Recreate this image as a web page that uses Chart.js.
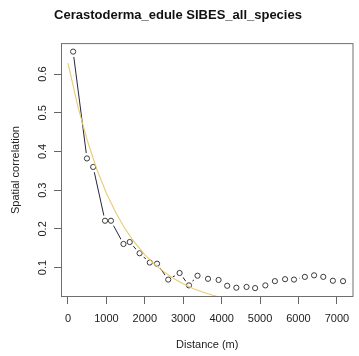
<!DOCTYPE html>
<meta charset="utf-8">
<style>
html, body {
  margin: 0;
  background: #fff;
}

#chart {
  display: block;
}
</style>
<body>

<canvas id="chart" width="359" height="356"></canvas>

<script src="https://cdn.jsdelivr.net/npm/chart.js@4/dist/chart.umd.min.js"></script>
<script>
"use strict";

var distance = [134, 493, 655, 964, 1118, 1444, 1607, 1864, 2129, 2318, 2609, 2905, 3149, 3372, 3645,
  3920, 4144, 4383, 4648, 4871, 5137, 5386, 5651, 5883, 6166, 6406, 6645, 6895, 7160];
var correlation = [0.658, 0.382, 0.360, 0.221, 0.221, 0.161, 0.166, 0.137, 0.113, 0.110, 0.069, 0.086,
  0.054, 0.079, 0.071, 0.068, 0.053, 0.048, 0.050, 0.047, 0.054, 0.065, 0.070, 0.069, 0.076, 0.080,
  0.076, 0.066, 0.065];

// fitted curve (yellow), sampled by eye
var fitDistance = [0, 250, 500, 750, 1000, 1250, 1500, 1750, 2000, 2250, 2500, 2750, 3000, 3250,
  3500, 3750, 4000, 4250];
var fitCorrelation = [0.628, 0.519, 0.429, 0.354, 0.292, 0.241, 0.198, 0.163, 0.133, 0.109, 0.089,
  0.072, 0.058, 0.046, 0.037, 0.029, 0.022, 0.017];

var xTicks = [0, 1000, 2000, 3000, 4000, 5000, 6000, 7000];
var yTicks = [0.1, 0.2, 0.3, 0.4, 0.5, 0.6];

var FONT = "'Liberation Sans', Arial, Helvetica, sans-serif";

function toPoints(xs, ys) {
  return xs.map(function (x, i) { return { x: x, y: ys[i] }; });
}

// grey frame round the plot region, R style
var boxPlugin = {
  id: "box",
  afterDraw: function (chart) {
    var a = chart.chartArea, ctx = chart.ctx;
    ctx.save();
    ctx.strokeStyle = "#6f6f6f";
    ctx.lineWidth = 1;
    ctx.strokeRect(a.left + 0.5, a.top + 0.5, a.right - a.left - 1, a.bottom - a.top - 1);
    ctx.restore();
  }
};

var observed = toPoints(distance, correlation);

new Chart(document.getElementById("chart"), {
  type: "scatter",
  data: {
    datasets: [
      {
        data: toPoints(fitDistance, fitCorrelation),
        showLine: true,
        borderColor: "rgb(233, 203, 115)",
        borderWidth: 1.1,
        pointRadius: 0,
        order: 0
      },
      {
        data: observed,
        showLine: false,
        pointRadius: 2.6,
        pointBorderWidth: 1,
        pointBorderColor: "#3c3c3c",
        pointBackgroundColor: "rgba(0,0,0,0)",
        order: 1
      },
      {
        // white gaps round the points, like type = "b"
        data: observed,
        showLine: false,
        pointRadius: 5.5,
        pointBorderWidth: 0,
        pointBackgroundColor: "#fff",
        order: 2
      },
      {
        data: observed,
        showLine: true,
        borderColor: "#25253d",
        borderWidth: 1,
        pointRadius: 0,
        order: 3
      }
    ]
  },
  options: {
    responsive: false,
    animation: false,
    devicePixelRatio: 1,
    layout: { padding: { top: 0, right: 3, bottom: 0, left: 0 } },
    plugins: {
      legend: { display: false },
      tooltip: { enabled: false },
      title: {
        display: true,
        text: "Cerastoderma_edule SIBES_all_species",
        color: "#111",
        font: { family: FONT, size: 13, weight: "bold", lineHeight: 1.2 },
        padding: { top: 8, bottom: 19.5 }
      }
    },
    scales: {
      x: {
        type: "linear",
        min: -182,
        max: 7432,
        afterFit: function (scale) { scale.height = 59; },
        afterBuildTicks: function (scale) {
          scale.ticks = xTicks.map(function (v) { return { value: v }; });
        },
        grid: { drawOnChartArea: false, tickLength: 7, color: "#666" },
        border: { display: false },
        ticks: {
          color: "#222",
          padding: 8,
          maxRotation: 0,
          font: { family: FONT, size: 11 },
          callback: function (v) { return String(v); }
        },
        title: {
          display: true,
          text: "Distance (m)",
          color: "#222",
          font: { family: FONT, size: 11, lineHeight: 1.2 },
          padding: { top: 0, bottom: 4.4 }
        }
      },
      y: {
        type: "linear",
        min: 0.024,
        max: 0.68,
        afterFit: function (scale) { scale.width = 61; },
        afterBuildTicks: function (scale) {
          scale.ticks = yTicks.map(function (v) { return { value: v }; });
        },
        grid: { drawOnChartArea: false, tickLength: 7, color: "#666" },
        border: { display: false },
        ticks: {
          color: "#222",
          padding: 3,
          minRotation: 90,
          maxRotation: 90,
          crossAlign: "center",
          font: { family: FONT, size: 11 },
          callback: function (v) { return String(Math.round(v * 10) / 10); }
        },
        title: {
          display: true,
          text: "Spatial correlation",
          color: "#222",
          font: { family: FONT, size: 11, lineHeight: 1.2 },
          padding: { top: 9.4, bottom: 0 }
        }
      }
    }
  },
  plugins: [boxPlugin]
});
</script>
</body>
